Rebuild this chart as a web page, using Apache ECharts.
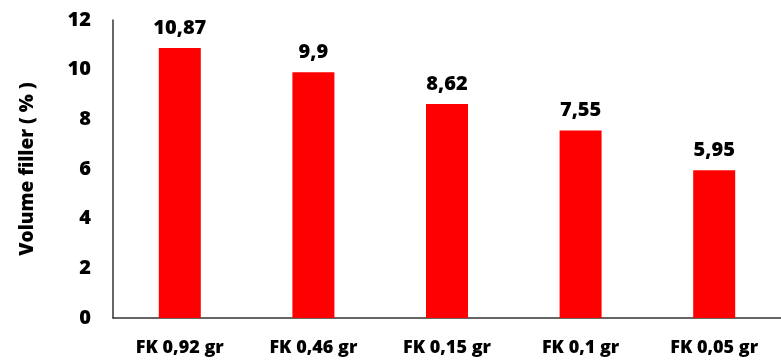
<!DOCTYPE html>
<html>
<head>
<meta charset="utf-8">
<script src="https://cdn.jsdelivr.net/npm/echarts@6/dist/echarts.min.js"></script>
<style>
html,body{margin:0;padding:0;background:#fff;}
#chart{width:781px;height:363px;}
</style>
</head>
<body>
<div id="chart"></div>
<script>
const categories = ['FK 0,92 gr', 'FK 0,46 gr', 'FK 0,15 gr', 'FK 0,1 gr', 'FK 0,05 gr'];
const volumeFiller = [10.87, 9.9, 8.62, 7.55, 5.95];
const yTicks = [0, 2, 4, 6, 8, 10, 12];

const fontStack = '"Open Sans", Carlito, sans-serif';
const heavy = 800;
const chart = echarts.init(document.getElementById('chart'));
chart.setOption({
  animation: false,
  grid: { left: 113, right: -12, top: 20, bottom: 45, containLabel: false },
  xAxis: {
    type: 'category',
    data: categories,
    axisLine: { lineStyle: { color: '#333', width: 1.5 } },
    axisTick: { show: false },
    axisLabel: { color: '#000', fontFamily: fontStack, fontWeight: heavy, fontSize: 18, margin: 21 }
  },
  yAxis: {
    type: 'value',
    min: yTicks[0],
    max: yTicks[yTicks.length - 1],
    interval: 2,
    name: 'Volume filler ( % )',
    nameLocation: 'middle',
    nameGap: 76,
    nameRotate: 90,
    nameTextStyle: { color: '#000', fontFamily: fontStack, fontWeight: heavy, fontSize: 19 },
    axisLine: { show: true, lineStyle: { color: '#333', width: 1.5 } },
    axisTick: { show: false },
    splitLine: { show: false },
    axisLabel: { color: '#000', fontFamily: fontStack, fontWeight: heavy, fontSize: 20, margin: 22 }
  },
  series: [{
    type: 'bar',
    data: volumeFiller,
    barWidth: 42,
    itemStyle: { color: '#ff0000' },
    label: {
      show: true,
      position: 'top',
      distance: 10,
      color: '#000',
      fontFamily: fontStack,
      fontWeight: heavy,
      fontSize: 20,
      formatter: p => String(p.value).replace('.', ',')
    }
  }]
});
</script>
</body>
</html>
